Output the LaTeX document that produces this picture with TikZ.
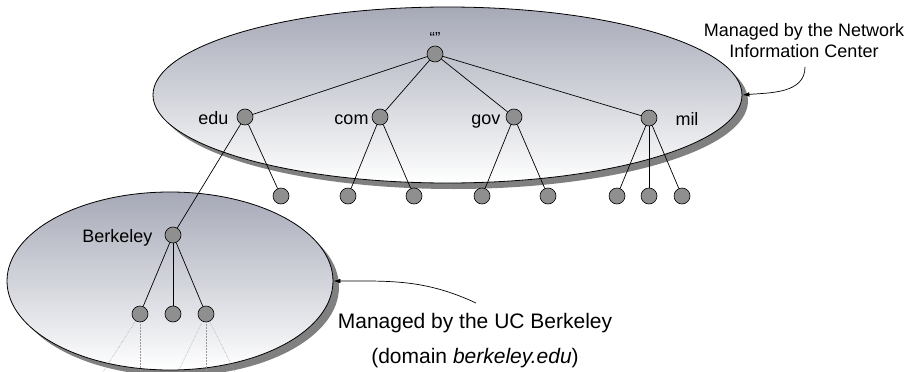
\documentclass[tikz,border=0pt]{standalone}
\usepackage{fontspec}
\setmainfont{Liberation Sans}
\usetikzlibrary{shapes, arrows.meta, positioning}
\definecolor{zonetop}{HTML}{A6A9B7}
\definecolor{shadowgray}{HTML}{808080}
\definecolor{hostgray}{HTML}{8F8F8F}
\tikzset{
	zone/.style={draw, ellipse, line width=0.8pt, top color=zonetop, bottom color=white, inner sep=0pt},
	zoneshadow/.style={ellipse, fill=shadowgray, inner sep=0pt},
	host/.style={draw, circle, fill=hostgray, minimum size=16pt, inner sep=0pt, line width=0.6pt},
	lbl/.style={inner sep=0pt, text height=14pt, text depth=0pt, font=\fontsize{18}{21}\selectfont},
	link/.style={line width=0.7pt},
	hint/.style={densely dotted, black!40, line width=0.5pt},
	note/.style={inner sep=0pt, align=center},
	notearrow/.style={line width=0.7pt, -{Latex[length=7pt,width=4.5pt]}}
}

\begin{document}
\begin{tikzpicture}[x=1pt,y=-1pt]
	\useasboundingbox (0,0) rectangle (908,372);
	% shadows under the zones
	\node[zoneshadow,
	minimum width=589pt,
	minimum height=176pt] at (453.5,101) {};
	\node[zoneshadow,
	minimum width=326pt,
	minimum height=178pt] at (176,287) {};
	% draw zone ellipses
	\node[zone,
	minimum width=589pt,
	minimum height=176pt] (nic) at (447.5,95) {};
	\node[zone,
	minimum width=326pt,
	minimum height=178pt] (ucb) at (170,281) {};
	% top level hosts
	\node[host, label={[inner sep=0pt, font=\fontsize{16}{16}\selectfont, label distance=2pt]above:“”}] (root) at (435,54) {};
	\node[host, label={[lbl, label distance=8pt]left:edu}] (edu) at (245,117) {};
	\node[host, label={[lbl, label distance=3pt]left:com}] (com) at (380,117) {};
	\node[host, label={[lbl, label distance=5pt]left:gov}] (gov) at (514,117) {};
	\node[host, label={[lbl, label distance=18pt]right:mil}] (mil) at (649,118) {};
	% second level hosts
	\node[host] (edu1) at (281,196) {};
	\node[host] (com1) at (348,196) {};
	\node[host] (com2) at (414,196) {};
	\node[host] (gov1) at (482,196) {};
	\node[host] (gov2) at (548,196) {};
	\node[host] (mil1) at (617,196) {};
	\node[host] (mil2) at (649,196) {};
	\node[host] (mil3) at (682,196) {};
	% Berkeley zone
	\node[host, label={[lbl, label distance=12pt]left:Berkeley}] (berkeley) at (173,235) {};
	\node[host] (bk1) at (140,314) {};
	\node[host] (bk2) at (173,314) {};
	\node[host] (bk3) at (206,314) {};
	% Links
	\draw[link] (root) edge (edu)
	(root) edge (com)
	(root) edge (gov)
	(root) edge (mil)
	(edu) edge (edu1)
	(edu) edge (berkeley)
	(com) edge (com1)
	(com) edge (com2)
	(gov) edge (gov1)
	(gov) edge (gov2)
	(mil) edge (mil1)
	(mil) edge (mil2)
	(mil) edge (mil3)
	(berkeley) edge (bk1)
	(berkeley) edge (bk2)
	(berkeley) edge (bk3);
	% hosts below, leaving the picture
	\coordinate (out1) at (103,372);
	\coordinate (out2) at (140,372);
	\coordinate (out3) at (178,372);
	\coordinate (out4) at (206,372);
	\coordinate (out5) at (235,372);
	\draw[hint] (bk1) edge (out1)
	(bk1) edge (out2)
	(bk3) edge (out3)
	(bk3) edge (out4)
	(bk3) edge (out5);
	% notes
	\node[note, font=\fontsize{18}{21}\selectfont] (nicnote) at (804,41) {Managed by the Network\\Information Center};
	\coordinate (nicfrom) at (805,67);
	\draw[notearrow] (nicfrom) to[out=-90, in=5] (nic.east);
	\node[note, font=\fontsize{21}{35}\selectfont] (ucbnote) at (475,341) {Managed by the UC Berkeley\\(domain \textit{berkeley.edu})};
	\coordinate (ucbfrom) at (476,303);
	\draw[notearrow] (ucbfrom) to[out=155, in=0] (ucb.east);
\end{tikzpicture}
\end{document}
